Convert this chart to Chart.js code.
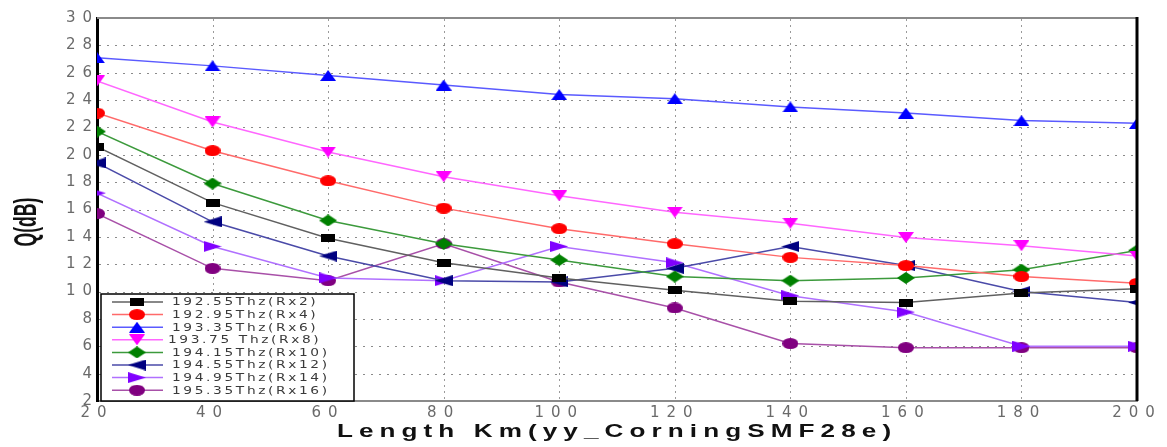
<!DOCTYPE html>
<html><head><meta charset="utf-8">
<script src="https://cdn.jsdelivr.net/npm/chart.js@4.4.1/dist/chart.umd.min.js"></script>
<style>html,body{margin:0;padding:0;background:#fff;overflow:hidden}#wrap{width:1167px;height:447px}</style>
</head><body><div id="wrap"><canvas id="c" width="1167" height="447"></canvas></div>
<script>
// ---- data ----
const lengths = [20, 40, 60, 80, 100, 120, 140, 160, 180, 200];
const seriesLabels = ["192.55Thz(Rx2)", "192.95Thz(Rx4)", "193.35Thz(Rx6)", "193.75 Thz(Rx8)",
  "194.15Thz(Rx10)", "194.55Thz(Rx12)", "194.95Thz(Rx14)", "195.35Thz(Rx16)"];
const rx2  = [20.6, 16.5, 13.9, 12.1, 11.0, 10.1, 9.3, 9.2, 9.9, 10.2];
const rx4  = [23.05, 20.3, 18.1, 16.1, 14.6, 13.5, 12.5, 11.9, 11.1, 10.6];
const rx6  = [27.1, 26.5, 25.8, 25.1, 24.4, 24.1, 23.5, 23.05, 22.5, 22.3];
const rx8  = [25.4, 22.4, 20.2, 18.4, 17.0, 15.8, 15.0, 13.95, 13.35, 12.6];
const rx10 = [21.7, 17.9, 15.2, 13.5, 12.3, 11.1, 10.8, 11.0, 11.6, 13.0];
const rx12 = [19.4, 15.1, 12.6, 10.8, 10.7, 11.7, 13.3, 11.9, 10.0, 9.2];
const rx14 = [17.2, 13.3, 11.0, 10.8, 13.3, 12.1, 9.7, 8.5, 6.0, 6.0];
const rx16 = [15.7, 11.7, 10.8, 13.5, 10.7, 8.8, 6.2, 5.9, 5.9, 5.9];
const yTickValues = [2, 4, 6, 8, 10, 12, 14, 16, 18, 20, 22, 24, 26, 28, 30];
const xTitle = "Length Km(yy_CorningSMF28e)";
const yTitle = "Q(dB)";

// ---- styles ----
const markerColors = ['#000000', '#ff0000', '#0000ff', '#ff00ff', '#008000', '#000080', '#8000ff', '#800080'];
const lineColors = ['#606060', '#ff6a6a', '#5a5aff', '#ff66ff', '#3c9a3c', '#4a4aa8', '#b070ff', '#a850a8'];
const shapes = ['square', 'ellipse', 'up', 'down', 'diamond', 'left', 'right', 'ellipse'];
const allSeries = [rx2, rx4, rx6, rx8, rx10, rx12, rx14, rx16];

function makeMarker(shape, color) {
  const c = document.createElement('canvas');
  let w = 16, h = 11;
  if (shape === 'square') { w = 14; h = 8; }
  if (shape === 'diamond') { w = 18; h = 12; }
  if (shape === 'left' || shape === 'right') { w = 18; h = 11; }
  c.width = w; c.height = h;
  const g = c.getContext('2d');
  g.fillStyle = color;
  g.beginPath();
  if (shape === 'square') g.rect(0, 0, w, h);
  else if (shape === 'ellipse') g.ellipse(w / 2, h / 2, w / 2, h / 2, 0, 0, Math.PI * 2);
  else if (shape === 'up') { g.moveTo(w / 2, 0); g.lineTo(w, h); g.lineTo(0, h); }
  else if (shape === 'down') { g.moveTo(0, 0); g.lineTo(w, 0); g.lineTo(w / 2, h); }
  else if (shape === 'diamond') { g.moveTo(w / 2, 0); g.lineTo(w, h / 2); g.lineTo(w / 2, h); g.lineTo(0, h / 2); }
  else if (shape === 'left') { g.moveTo(0, h / 2); g.lineTo(w, 0); g.lineTo(w, h); }
  else if (shape === 'right') { g.moveTo(0, 0); g.lineTo(w, h / 2); g.lineTo(0, h); }
  g.closePath(); g.fill();
  return c;
}
const markers = shapes.map((s, i) => makeMarker(s, markerColors[i]));

const datasets = allSeries.map((arr, i) => ({
  label: seriesLabels[i],
  data: lengths.map((x, j) => ({ x: x, y: arr[j] })),
  borderColor: lineColors[i],
  backgroundColor: markerColors[i],
  borderWidth: 1.5,
  pointStyle: markers[i],
  pointRadius: 6,
  pointHoverRadius: 6,
  tension: 0,
  clip: 0
}));

function wideText(ctx, text, x, y, sx, spacing) {
  ctx.save();
  ctx.translate(x, y);
  ctx.scale(sx, 1);
  ctx.letterSpacing = spacing + 'px';
  ctx.textAlign = 'left';
  ctx.fillText(text, 0, 0);
  ctx.restore();
}
function wideWidth(ctx, text, sx, spacing) {
  ctx.save();
  ctx.letterSpacing = spacing + 'px';
  const w = (ctx.measureText(text).width - spacing) * sx;
  ctx.restore();
  return w;
}

const decor = {
  id: 'decor',
  beforeDraw(chart) { chart.ctx.letterSpacing = '7px'; },
  beforeDatasetsDraw(chart) {
    // dotted grid at the inner scale ticks
    const ctx = chart.ctx, a = chart.chartArea;
    const xs = chart.scales.x, ys = chart.scales.y;
    ctx.save();
    ctx.lineWidth = 1;
    ctx.strokeStyle = '#9a9a9a';
    ctx.setLineDash([2, 4]);
    xs.ticks.slice(1, -1).forEach(t => {
      const px = Math.round(xs.getPixelForValue(t.value)) + 0.5;
      ctx.beginPath(); ctx.moveTo(px, a.top + 1); ctx.lineTo(px, a.bottom - 1); ctx.stroke();
    });
    ctx.strokeStyle = '#8a8a8a';
    ctx.setLineDash([2, 6]);
    ys.ticks.slice(1, -1).forEach(t => {
      const py = Math.round(ys.getPixelForValue(t.value)) + 0.5;
      ctx.beginPath(); ctx.moveTo(a.left + 2, py); ctx.lineTo(a.right - 2, py); ctx.stroke();
    });
    ctx.restore();
  },
  afterDraw(chart) {
    const ctx = chart.ctx, a = chart.chartArea;
    ctx.save();
    ctx.letterSpacing = '0px';
    // top (grey) and right (black) frame
    ctx.strokeStyle = '#8a8a8a'; ctx.lineWidth = 2;
    ctx.beginPath(); ctx.moveTo(a.left, a.top); ctx.lineTo(a.right, a.top); ctx.stroke();
    ctx.strokeStyle = '#000'; ctx.lineWidth = 3;
    ctx.beginPath(); ctx.moveTo(a.right, a.top - 1); ctx.lineTo(a.right, a.bottom); ctx.stroke();

    // legend box
    const bx = 101, by = 294, bw = 253, bh = a.bottom - 294;
    ctx.fillStyle = '#fff'; ctx.fillRect(bx, by, bw, bh);
    ctx.strokeStyle = '#000'; ctx.lineWidth = 1.5; ctx.strokeRect(bx, by, bw, bh);
    ctx.font = '11px "DejaVu Sans"';
    ctx.textBaseline = 'middle';
    chart.data.datasets.forEach((ds, i) => {
      const y = 302 + i * 12.6;
      ctx.strokeStyle = ds.borderColor; ctx.lineWidth = 1.5;
      ctx.beginPath(); ctx.moveTo(112, y); ctx.lineTo(163, y); ctx.stroke();
      const m = ds.pointStyle;
      ctx.drawImage(m, 137 - m.width / 2, y - m.height / 2);
      ctx.fillStyle = '#3a3a3a';
      wideText(ctx, ds.label, i === 3 ? 168 : 172, y + 0.5, 1.25, 2.1);
    });

    // x title
    ctx.fillStyle = '#111';
    ctx.font = 'bold 18px "Liberation Sans"';
    ctx.textBaseline = 'middle';
    const tw = wideWidth(ctx, xTitle, 1.45, 4.2);
    wideText(ctx, xTitle, 614 - tw / 2, 432, 1.45, 4.2);

    // y title (condensed, rotated)
    ctx.save();
    ctx.translate(27, 222);
    ctx.rotate(-Math.PI / 2);
    ctx.scale(0.55, 1);
    ctx.font = 'bold 32px "Liberation Sans"';
    ctx.textAlign = 'center'; ctx.textBaseline = 'middle';
    ctx.fillStyle = '#111';
    ctx.fillText(yTitle, 0, 0);
    ctx.restore();
    ctx.restore();
  }
};

new Chart(document.getElementById('c'), {
  type: 'line',
  data: { datasets: datasets },
  plugins: [decor],
  options: {
    responsive: false,
    animation: false,
    events: [],
    layout: { padding: { left: 0, right: 30, top: 18, bottom: 0 } },
    plugins: { legend: { display: false }, tooltip: { enabled: false }, title: { display: false } },
    scales: {
      x: {
        type: 'linear', min: 20, max: 200,
        afterBuildTicks: s => { s.ticks = lengths.map(v => ({ value: v })); },
        afterFit: s => { s.height = 46; },
        ticks: { autoSkip: false, maxRotation: 0, padding: 3, color: '#6a6a6a', font: { family: 'DejaVu Sans', size: 15 } },
        grid: { display: false, drawTicks: false },
        border: { color: '#8a8a8a', width: 2 }
      },
      y: {
        min: 2, max: 30,
        afterBuildTicks: s => { s.ticks = yTickValues.map(v => ({ value: v })); },
        afterFit: s => { s.width = 97; },
        ticks: { autoSkip: false, padding: -2, color: '#6a6a6a', font: { family: 'DejaVu Sans', size: 15 } },
        grid: { display: false, drawTicks: false },
        border: { color: '#000', width: 3 }
      }
    }
  }
});
</script></body></html>
